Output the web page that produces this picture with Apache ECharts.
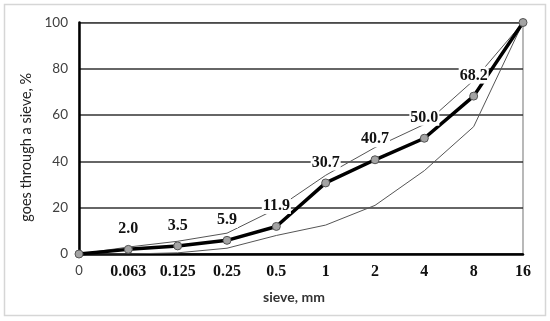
<!DOCTYPE html>
<html>
<head>
<meta charset="utf-8">
<script src="https://cdn.jsdelivr.net/npm/echarts@6/dist/echarts.min.js"></script>
<style>
html,body{margin:0;padding:0;background:#fff;}
#chart{width:550px;height:321px;}
</style>
</head>
<body>
<div id="chart"></div>
<script>
const categories = ['0', '0.063', '0.125', '0.25', '0.5', '1', '2', '4', '8', '16'];
const passing = [0, 2.0, 3.5, 5.9, 11.9, 30.7, 40.7, 50.0, 68.2, 100];
const upperLimit = [0, 3, 5.5, 9, 19.5, 34, 46, 56, 75, 100];
const lowerLimit = [0, 0, 0.5, 2.5, 8, 12.5, 21, 36, 55, 100];
const yMin = 0, yMax = 100, yStep = 20;

const chart = echarts.init(document.getElementById('chart'), null, {renderer: 'canvas'});

const mainData = passing.map((v, i) => ({
  value: v,
  label: {show: i > 0 && i < passing.length - 1}
}));

chart.setOption({
  animation: false,
  backgroundColor: '#ffffff',
  graphic: [{
    type: 'rect',
    shape: {x: 4.5, y: 4.5, width: 541, height: 311},
    style: {fill: 'none', stroke: '#d6d6d6', lineWidth: 1.5},
    silent: true
  }],
  grid: {
    left: 79, right: 27, top: 22.5, bottom: 67,
    show: true, borderColor: '#8a8a8a', borderWidth: 1.2,
    backgroundColor: 'transparent'
  },
  xAxis: {
    type: 'category',
    data: categories,
    boundaryGap: false,
    name: 'sieve, mm',
    nameLocation: 'middle',
    nameGap: 36,
    nameTextStyle: {
      fontFamily: 'Lato', fontWeight: 'bold', fontSize: 14, color: '#333',
      padding: [0, 14, 0, 0]
    },
    axisLine: {lineStyle: {color: '#000', width: 2.5}},
    axisTick: {show: false},
    splitLine: {show: false},
    axisLabel: {
      interval: 0,
      hideOverlap: false,
      margin: 10,
      formatter: (v, i) => i === 0 ? '{s|' + v + '}' : '{b|' + v + '}',
      rich: {
        s: {fontFamily: 'Lato', fontSize: 13, color: '#404040'},
        b: {fontFamily: 'Liberation Serif', fontWeight: 'bold', fontSize: 16, color: '#111'}
      }
    }
  },
  yAxis: {
    type: 'value',
    min: yMin, max: yMax, interval: yStep,
    name: 'goes through a sieve, %',
    nameLocation: 'middle',
    nameGap: 43,
    nameTextStyle: {
      fontFamily: 'Lato', fontSize: 14.5, color: '#222',
      padding: [0, 18, 0, 0]
    },
    axisLine: {show: true, lineStyle: {color: '#000', width: 2.5}},
    axisTick: {show: false},
    axisLabel: {margin: 11, fontFamily: 'Lato', fontSize: 13.5, color: '#404040'},
    splitLine: {lineStyle: {color: '#333', width: 1.5}}
  },
  series: [
    {
      name: 'lower limit',
      type: 'line',
      data: lowerLimit,
      symbol: 'none',
      silent: true,
      z: 2,
      lineStyle: {color: '#555', width: 1}
    },
    {
      name: 'upper limit',
      type: 'line',
      data: upperLimit,
      symbol: 'none',
      silent: true,
      z: 2,
      lineStyle: {color: '#555', width: 1}
    },
    {
      name: 'passing',
      type: 'line',
      data: mainData,
      symbol: 'circle',
      symbolSize: 8,
      z: 3,
      lineStyle: {color: '#000', width: 3.5},
      itemStyle: {color: '#a3a3a3', borderColor: '#555', borderWidth: 1},
      label: {
        position: 'top',
        distance: 8,
        fontFamily: 'Liberation Serif',
        fontWeight: 'bold',
        fontSize: 16,
        color: '#111',
        backgroundColor: '#fff',
        padding: [1, 1, 0, 1],
        formatter: p => p.value.toFixed(1)
      }
    }
  ]
});
</script>
</body>
</html>
